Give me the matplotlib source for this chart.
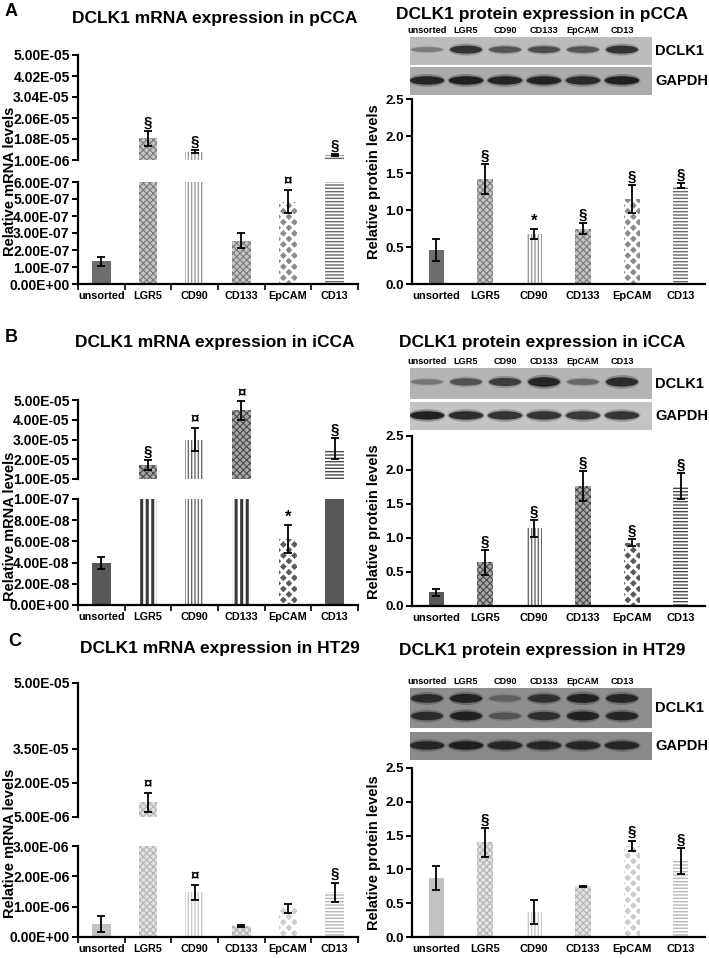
import numpy as np
import matplotlib
matplotlib.use("Agg")
import matplotlib.pyplot as plt
from matplotlib.patches import Ellipse

plt.rcParams['font.family'] = ['Liberation Sans', 'DejaVu Sans']
plt.rcParams['font.weight'] = 'bold'
plt.rcParams['hatch.linewidth'] = 0.9

W, H = 709, 958

categories = ['unsorted', 'LGR5', 'CD90', 'CD133', 'EpCAM', 'CD13']

# A: pCCA
pcca_mrna = [1.33e-7, 1.11e-5, 4.9e-6, 2.55e-7, 4.85e-7, 3.2e-6]
pcca_mrna_err = [0.25e-7, 3.4e-6, 0.6e-6, 0.45e-7, 0.7e-7, 0.5e-6]
pcca_mrna_sig = ['', '§', '§', '', '¤', '§']
pcca_prot = [0.46, 1.42, 0.68, 0.75, 1.15, 1.33]
pcca_prot_err = [0.145, 0.20, 0.07, 0.07, 0.19, 0.035]
pcca_prot_sig = ['', '§', '*', '§', '§', '§']
pcca_dclk1 = [0.35, 0.85, 0.6, 0.65, 0.6, 0.85]
pcca_gapdh = [0.95, 1.0, 0.95, 0.95, 0.9, 1.0]

# B: iCCA
icca_mrna = [3.95e-8, 1.71e-5, 3.0e-5, 4.47e-5, 6.24e-8, 2.54e-5]
icca_mrna_err = [0.55e-8, 0.25e-5, 0.6e-5, 0.47e-5, 1.3e-8, 0.52e-5]
icca_mrna_sig = ['', '§', '¤', '¤', '*', '§']
icca_prot = [0.20, 0.64, 1.14, 1.76, 0.93, 1.76]
icca_prot_err = [0.05, 0.185, 0.12, 0.22, 0.05, 0.19]
icca_prot_sig = ['', '§', '§', '§', '§', '§']
icca_dclk1 = [0.35, 0.6, 0.75, 0.95, 0.45, 0.9]
icca_gapdh = [1.0, 0.9, 0.85, 0.85, 0.8, 0.85]

# C: HT29
ht29_mrna = [0.43e-6, 1.15e-5, 1.475e-6, 0.37e-6, 0.94e-6, 1.475e-6]
ht29_mrna_err = [0.27e-6, 0.42e-5, 0.24e-6, 0.04e-6, 0.16e-6, 0.32e-6]
ht29_mrna_sig = ['', '¤', '¤', '', '', '§']
ht29_prot = [0.87, 1.40, 0.37, 0.75, 1.345, 1.12]
ht29_prot_err = [0.175, 0.215, 0.175, 0.01, 0.08, 0.195]
ht29_prot_sig = ['', '§', '', '', '§', '§']
ht29_dclk1_top = [0.85, 0.95, 0.35, 0.8, 0.95, 0.9]
ht29_dclk1_bot = [0.85, 0.95, 0.45, 0.8, 0.95, 0.9]
ht29_gapdh = [0.9, 1.0, 0.9, 0.9, 0.9, 0.9]

# fill styles: (face, hatch, hatch colour, hatch lw)
pal_mid = {
    'solid': ('#6e6e6e', None, None, 0),
    'check': ('#c4c4c4', 'xxxxx', '#7a7a7a', 0.8),
    'vline': ('white', '|||||', '#9a9a9a', 1.0),
    'diam': ('#8a8a8a', 'xxx', 'white', 2.2),
    'hline': ('white', '-----', '#6a6a6a', 1.0),
}
pal_dark = {
    'solid': ('#585858', None, None, 0),
    'check': ('#a8a8a8', 'xxxxx', '#4a4a4a', 0.8),
    'vline': ('white', '|||||', '#6a6a6a', 1.0),
    'vwide': ('white', '|||', '#3a3a3a', 2.2),
    'diam': ('#5a5a5a', 'xxx', 'white', 2.2),
    'hline': ('white', '-----', '#4a4a4a', 1.0),
}
pal_light = {
    'solid': ('#c2c2c2', None, None, 0),
    'check': ('#e2e2e2', 'xxxxx', '#b4b4b4', 0.8),
    'vline': ('white', '|||||', '#c8c8c8', 1.0),
    'diam': ('#cdcdcd', 'xxx', 'white', 2.2),
    'hline': ('white', '-----', '#b8b8b8', 1.0),
}

fig = plt.figure(figsize=(W / 100, H / 100), dpi=100)


def px_rect(x0, y0, x1, y1):
    return [x0 / W, 1 - y1 / H, (x1 - x0) / W, (y1 - y0) / H]


def ftext(x, y, s, **kw):
    fig.text(x / W, 1 - y / H, s, **kw)


def draw_bar(ax, x, v, width, st):
    fc, hatch, hc, hlw = st
    b = ax.bar(x, v, width, color=fc, linewidth=0)[0]
    if hatch:
        b.set_hatch(hatch)
        b.set_edgecolor(hc)
        if hasattr(b, 'set_hatch_linewidth'):
            b.set_hatch_linewidth(hlw)


def style_axis(ax, bottom=True, lsize=9.5):
    for s in ['top', 'right']:
        ax.spines[s].set_visible(False)
    ax.spines['left'].set_linewidth(1.6)
    ax.spines['bottom'].set_linewidth(1.6)
    if not bottom:
        ax.spines['bottom'].set_visible(False)
    ax.tick_params(axis='y', length=4, width=1.4, labelsize=lsize, pad=2)


def put_sig(ax, x, top, sig, fs=11):
    if sig:
        off = 1 if sig != '*' else 0
        ax.annotate(sig, (x, top), xytext=(0, off), textcoords='offset points',
                    ha='center', va='bottom', fontsize=fs if sig != '*' else 12,
                    annotation_clip=False)


def mrna_panel(up_px, low_px, vals, errs, sigs, up_lim, up_ticks, up_labels,
               low_lim, low_ticks, up_st, low_st, pal):
    x0, x1 = 78, 358
    ax_u = fig.add_axes(px_rect(x0, up_px[0], x1, up_px[1]))
    ax_l = fig.add_axes(px_rect(x0, low_px[0], x1, low_px[1]))
    xs = np.arange(len(categories))
    for ax, sts in ((ax_u, up_st), (ax_l, low_st)):
        for x, v, s in zip(xs, vals, sts):
            draw_bar(ax, x, v, 0.4, pal[s])
        ax.set_xlim(-0.5, len(categories) - 0.5)
    ax_u.set_ylim(*up_lim)
    ax_l.set_ylim(*low_lim)
    for x, v, e, sg in zip(xs, vals, errs, sigs):
        ax = ax_u if v > low_lim[1] else ax_l
        ax.errorbar(x, v, yerr=e, fmt='none', ecolor='black', elinewidth=1.3,
                    capsize=3, capthick=1.3)
        put_sig(ax, x, v + e, sg)
    style_axis(ax_u, bottom=False, lsize=10)
    style_axis(ax_l, lsize=10)
    ax_u.set_xticks([])
    ax_u.set_yticks(up_ticks)
    ax_u.set_yticklabels(up_labels)
    ax_l.set_yticks(low_ticks)
    ax_l.set_yticklabels([f"{t:.2E}" for t in low_ticks])
    ax_l.set_xticks(xs)
    ax_l.set_xticklabels(categories, fontsize=7.8)
    ax_l.set_xticks(np.arange(-0.5, len(categories), 1), minor=True)
    ax_l.tick_params(axis='x', which='major', length=0, pad=5)
    ax_l.tick_params(axis='x', which='minor', length=4, width=1.2)
    for ax in (ax_u, ax_l):
        ax.patch.set_alpha(0)
    return ax_u, ax_l


def protein_panel(ax_px, vals, errs, sigs, sts, pal):
    ax = fig.add_axes(px_rect(412, ax_px[0], 705, ax_px[1]))
    xs = np.arange(len(categories))
    for x, v, s in zip(xs, vals, sts):
        draw_bar(ax, x, v, 0.32, pal[s])
    ax.errorbar(xs, vals, yerr=errs, fmt='none', ecolor='black', elinewidth=1.3,
                capsize=3, capthick=1.3)
    for x, v, e, sg in zip(xs, vals, errs, sigs):
        put_sig(ax, x, v + e, sg)
    ax.set_xlim(-0.5, len(categories) - 0.5)
    ax.set_ylim(0, 2.5)
    ax.set_yticks(np.arange(0, 2.51, 0.5))
    ax.set_yticklabels([f"{t:.1f}" for t in np.arange(0, 2.51, 0.5)])
    style_axis(ax)
    ax.set_xticks(xs)
    ax.set_xticklabels(categories, fontsize=8)
    ax.tick_params(axis='x', length=0, pad=5)
    return ax


def blot(y0, y1, y2, y3, bg1, bg2, dclk1, gapdh, dclk1_b=None):
    lim = (-(427 - 410) / 39, (652 - 427) / 39)
    a1 = fig.add_axes(px_rect(410, y0, 652, y1))
    a2 = fig.add_axes(px_rect(410, y2, 652, y3))
    for a, bg in ((a1, bg1), (a2, bg2)):
        a.set_facecolor(bg)
        a.set_xlim(*lim)
        a.set_ylim(0, 1)
        a.set_xticks([])
        a.set_yticks([])
        for s in a.spines.values():
            s.set_visible(False)

    def band(a, x, y, inten, h, w=0.82):
        a.add_patch(Ellipse((x, y), w * 1.08, h * 1.5, color='#1a1a1a', alpha=inten * 0.3, lw=0))
        a.add_patch(Ellipse((x, y), w, h, color='#151515', alpha=inten * 0.9, lw=0))

    for i, v in enumerate(dclk1):
        if dclk1_b is None:
            band(a1, i, 0.55, v, 0.1 + 0.22 * v)
        else:
            band(a1, i, 0.74, v, 0.13 + 0.1 * v)
            band(a1, i, 0.3, dclk1_b[i], 0.13 + 0.1 * dclk1_b[i])
    for i, v in enumerate(gapdh):
        band(a2, i, 0.52, v, 0.3, 0.88)
    for i, c in enumerate(categories):
        a1.annotate(c, (i, 1), xycoords=('data', 'axes fraction'), xytext=(0, 1.5),
                    textcoords='offset points', ha='center', va='bottom', fontsize=6.6)
    ftext(655, (y0 + y1) / 2, 'DCLK1', fontsize=10.5, va='center', ha='left')
    ftext(655, (y2 + y3) / 2, 'GAPDH', fontsize=10.5, va='center', ha='left')


# ---------------- A ----------------
ftext(5, 12, 'A', fontsize=13, va='center')
ftext(215, 18, 'DCLK1 mRNA expression in pCCA', fontsize=12.5, ha='center', va='center')
up_t = [1e-6 + 9.8e-6 * k for k in range(6)]
mrna_panel((55, 160), (182, 284), pcca_mrna, pcca_mrna_err, pcca_mrna_sig,
           (1e-6, 5e-5), up_t, [f"{t:.2E}" for t in up_t],
           (0, 6e-7), [k * 1e-7 for k in range(7)],
           ['solid', 'check', 'vline', 'check', 'diam', 'hline'],
           ['solid', 'check', 'vline', 'check', 'diam', 'hline'], pal_mid)
ftext(10, 181, 'Relative mRNA levels', fontsize=10.5, rotation=90, ha='center', va='center')

ftext(542, 15, 'DCLK1 protein expression in pCCA', fontsize=12.5, ha='center', va='center')
blot(37, 65, 67, 95, '#bcbcbc', '#ababab', pcca_dclk1, pcca_gapdh)
protein_panel((99, 284), pcca_prot, pcca_prot_err, pcca_prot_sig,
              ['solid', 'check', 'vline', 'check', 'diam', 'hline'], pal_mid)
ftext(374, 182, 'Relative protein levels', fontsize=10.5, rotation=90, ha='center', va='center')

# ---------------- B ----------------
ftext(5, 337, 'B', fontsize=13, va='center')
ftext(215, 343, 'DCLK1 mRNA expression in iCCA', fontsize=12.5, ha='center', va='center')
up_t = [k * 1e-5 for k in range(1, 6)]
mrna_panel((400, 479), (499, 605), icca_mrna, icca_mrna_err, icca_mrna_sig,
           (1e-5, 5e-5), up_t, [f"{t:.2E}" for t in up_t],
           (0, 1e-7), [k * 2e-8 for k in range(6)],
           ['solid', 'check', 'vline', 'check', 'diam', 'hline'],
           ['solid', 'vwide', 'vline', 'vwide', 'diam', 'solid'], pal_dark)
ftext(10, 526, 'Relative mRNA levels', fontsize=10.5, rotation=90, ha='center', va='center')

ftext(542, 342, 'DCLK1 protein expression in iCCA', fontsize=12.5, ha='center', va='center')
blot(368, 399, 402, 430, '#b4b4b4', '#c4c4c4', icca_dclk1, icca_gapdh)
protein_panel((436, 606), icca_prot, icca_prot_err, icca_prot_sig,
              ['solid', 'check', 'vline', 'check', 'diam', 'hline'], pal_dark)
ftext(374, 522, 'Relative protein levels', fontsize=10.5, rotation=90, ha='center', va='center')

# ---------------- C ----------------
ftext(8, 642, 'C', fontsize=13, va='center')
ftext(220, 648, 'DCLK1 mRNA expression in HT29', fontsize=12.5, ha='center', va='center')
up_t = [5e-6, 2e-5, 3.5e-5, 6.4e-5]
mrna_panel((683, 817), (846, 937), ht29_mrna, ht29_mrna_err, ht29_mrna_sig,
           (5e-6, 6.4e-5), up_t, ['5.00E-06', '2.00E-05', '3.50E-05', '5.00E-05'],
           (0, 3e-6), [k * 1e-6 for k in range(4)],
           ['solid', 'check', 'vline', 'check', 'diam', 'hline'],
           ['solid', 'check', 'vline', 'check', 'diam', 'hline'], pal_light)
ftext(10, 843, 'Relative mRNA levels', fontsize=10.5, rotation=90, ha='center', va='center')

ftext(542, 650, 'DCLK1 protein expression in HT29', fontsize=12.5, ha='center', va='center')
blot(688, 728, 732, 760, '#8e8e8e', '#8a8a8a', ht29_dclk1_top, ht29_gapdh, ht29_dclk1_bot)
protein_panel((768, 937), ht29_prot, ht29_prot_err, ht29_prot_sig,
              ['solid', 'check', 'vline', 'check', 'diam', 'hline'], pal_light)
ftext(374, 853, 'Relative protein levels', fontsize=10.5, rotation=90, ha='center', va='center')

fig.savefig('out.png', dpi=100)
